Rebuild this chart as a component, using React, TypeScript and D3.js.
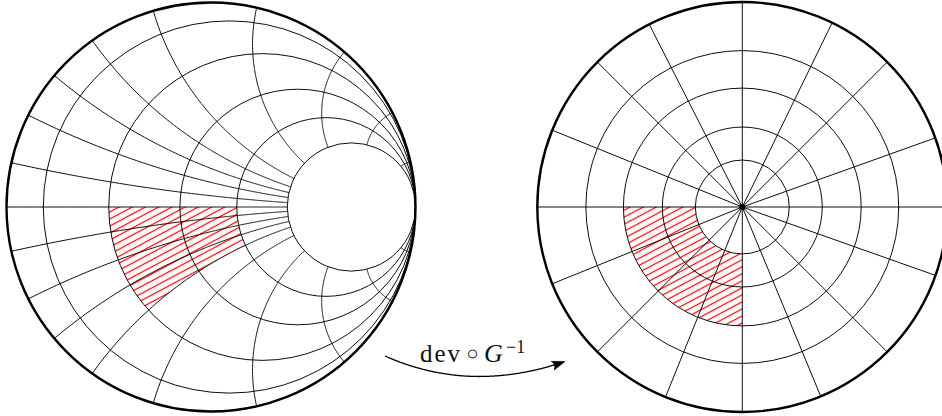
import React from 'react'
import * as d3 from 'd3'

// left disk: horocycles tangent at the point 1, given by where they cross the diameter (unit coords)
const horocycleFeet = [-0.82, -0.5, -0.152, 0.126, 0.373]
// left disk: end angles (deg) of the geodesics running into the point 1
const geodesicEnds = [
  180, 167.5, 153.3, 140, 125.5, 106.4, 77.1, 49.3, 27.5, 12.8,
  -12.8, -27.5, -49.3, -77.1, -106.4, -125.5, -140, -153.3, -167.5,
]
// right disk: radii of the concentric circles (fraction of the disk radius)
const ringRadii = [0.229, 0.39, 0.58, 0.763]
// right disk: directions (deg) of the rays from the centre
const rayAngles = [0, 19.7, 45, 64, 90, 117, 135, 158, 180, 202, 225, 248, 270, 292.5, 315, 340.5]
// hatched pieces: horocycle / ring indices and angle ranges
const hatchLeftHoro = [1, 3]
const hatchLeftEnds = [180, -125.5]
const hatchRightRings = [0, 2]
const hatchRightAngles = [180, 270]
const labelParts = ['dev', '\u2218', 'G', '\u22121']

const width = 942
const height = 416
const rad = (deg: number) => (deg * Math.PI) / 180

// half-plane coordinates  ->  unit disk (point at infinity goes to 1)
const cayley = (a: number, t: number): [number, number] => {
  const d = a * a + (t + 1) * (t + 1)
  return [(a * a + t * t - 1) / d, (-2 * a) / d]
}
const footToHeight = (z0: number) => (1 + z0) / (1 - z0)
const endToA = (deg: number) => {
  const half = rad(deg) / 2
  return Math.abs(Math.sin(half)) < 1e-9 ? 0 : -Math.cos(half) / Math.sin(half)
}

const App = () => {
  // left disk
  const cxL = 211, cyL = 207, RL = 204.5
  const xL = d3.scaleLinear().domain([-1, 1]).range([cxL - RL, cxL + RL])
  const yL = d3.scaleLinear().domain([-1, 1]).range([cyL + RL, cyL - RL])
  const lineL = d3.line<[number, number]>().x(d => xL(d[0])).y(d => yL(d[1]))

  // right disk
  const cxR = 742.3, cyR = 207, RR = 205
  const rR = d3.scaleLinear().domain([0, 1]).range([0, RR])

  const heights = horocycleFeet.map(footToHeight)
  const hMax = heights[heights.length - 1]
  const steps = d3.range(0, 1.00001, 1 / 200)

  const geodesics = geodesicEnds.map(e => {
    const a = endToA(e)
    return lineL(steps.map(s => cayley(a, s * hMax))) as string
  })

  // hatched region on the left, a rectangle in half-plane coordinates
  const h1 = heights[hatchLeftHoro[0]], h2 = heights[hatchLeftHoro[1]]
  const a1 = endToA(hatchLeftEnds[0]), a2 = endToA(hatchLeftEnds[1])
  const lerp = (p: number, q: number, s: number) => p + (q - p) * s
  const leftHatchPts: [number, number][] = [
    ...steps.map(s => cayley(a1, lerp(h1, h2, s))),
    ...steps.map(s => cayley(lerp(a1, a2, s), h2)),
    ...steps.map(s => cayley(a2, lerp(h2, h1, s))),
    ...steps.map(s => cayley(lerp(a2, a1, s), h1)),
  ]
  const leftHatch = (lineL(leftHatchPts) as string) + 'Z'

  const rightHatch = d3.arc()({
    innerRadius: rR(ringRadii[hatchRightRings[0]]),
    outerRadius: rR(ringRadii[hatchRightRings[1]]),
    startAngle: Math.PI / 2 - rad(hatchRightAngles[0]),
    endAngle: Math.PI / 2 - rad(hatchRightAngles[1]),
  } as any) as string

  // arrow between the disks
  const p0: [number, number] = [385, 356]
  const pc: [number, number] = [470, 394]
  const p1: [number, number] = [565, 361.5]
  const bez = (t: number): [number, number] => [
    (1 - t) * (1 - t) * p0[0] + 2 * (1 - t) * t * pc[0] + t * t * p1[0],
    (1 - t) * (1 - t) * p0[1] + 2 * (1 - t) * t * pc[1] + t * t * p1[1],
  ]
  const arrowLine = d3.line().curve(d3.curveBasis)(d3.range(0, 0.951, 0.01).map(bez)) as string
  const dx = p1[0] - pc[0], dy = p1[1] - pc[1]
  const len = Math.hypot(dx, dy)
  const ux = dx / len, uy = dy / len
  const nx = -uy, ny = ux
  const L = 13, W = 4.6
  const head = d3.path()
  head.moveTo(p1[0], p1[1])
  head.lineTo(p1[0] - L * ux + W * nx, p1[1] - L * uy + W * ny)
  head.quadraticCurveTo(p1[0] - 0.7 * L * ux, p1[1] - 0.7 * L * uy, p1[0] - L * ux - W * nx, p1[1] - L * uy - W * ny)
  head.closePath()

  return (
    <svg width={width} height={height} style={{ position: 'absolute', left: 0, top: 0, display: 'block' }}>
      <defs>
        <pattern id="hatch" patternUnits="userSpaceOnUse" width={12} height={6.2} patternTransform="rotate(-28)">
          <line x1={0} y1={3.1} x2={12} y2={3.1} stroke="#ff0000" strokeWidth={1.2} />
        </pattern>
      </defs>
      <rect width={width} height={height} fill="#fff" />

      {/* left disk */}
      <path d={leftHatch} fill="url(#hatch)" stroke="none" />
      <g fill="none" stroke="#000" strokeWidth={0.95}>
        {geodesics.map((d, i) => <path key={i} d={d} />)}
        {horocycleFeet.map((z0, i) => (
          <circle key={i} cx={xL((z0 + 1) / 2)} cy={yL(0)} r={((1 - z0) / 2) * RL} />
        ))}
      </g>
      <circle cx={cxL} cy={cyL} r={RL} fill="none" stroke="#000" strokeWidth={2.4} />

      {/* right disk */}
      <path d={rightHatch} transform={`translate(${cxR},${cyR})`} fill="url(#hatch)" stroke="none" />
      <g fill="none" stroke="#000" strokeWidth={0.95}>
        {ringRadii.map((r, i) => <circle key={i} cx={cxR} cy={cyR} r={rR(r)} />)}
        {rayAngles.map((a, i) => (
          <line key={i} x1={cxR} y1={cyR} x2={cxR + rR(1) * Math.cos(rad(a))} y2={cyR - rR(1) * Math.sin(rad(a))} />
        ))}
      </g>
      <circle cx={cxR} cy={cyR} r={RR} fill="none" stroke="#000" strokeWidth={2.4} />
      <circle cx={cxR} cy={cyR} r={3} fill="#000" />

      {/* arrow */}
      <path d={arrowLine} fill="none" stroke="#000" strokeWidth={1.3} />
      <path d={head.toString()} fill="#000" stroke="#000" strokeWidth={0.6} strokeLinejoin="round" />
      <g fill="#111" fontFamily="'Liberation Serif', serif">
        <text x={420} y={361.5} fontSize={25} textLength={40} lengthAdjust="spacing">{labelParts[0]}</text>
        <text x={472.5} y={363.5} fontSize={32} textAnchor="middle" fontFamily="'DejaVu Sans', sans-serif"
          stroke="#fff" strokeWidth={0.9}>{labelParts[1]}</text>
        <text x={484} y={361.5} fontSize={26} fontStyle="italic">{labelParts[2]}</text>
        <text x={506} y={353} fontSize={18}>{labelParts[3]}</text>
      </g>
    </svg>
  )
}

export default App
